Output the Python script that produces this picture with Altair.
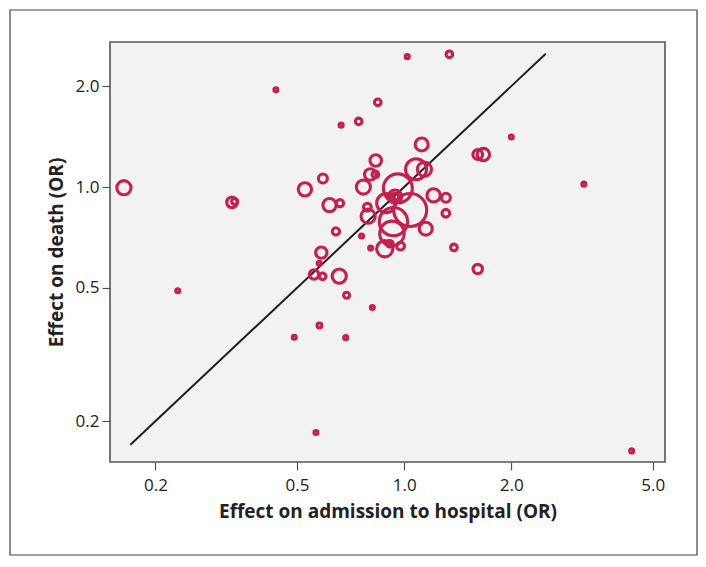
import altair as alt
import pandas as pd

# Effect on admission to hospital (OR), effect on death (OR), study weight
admission = [0.163, 0.328, 0.334, 0.436, 0.231, 1.02, 1.34, 0.843, 0.665, 0.745,
             2.0, 3.2, 4.36, 0.565, 0.491, 0.685, 0.578, 0.814, 0.689, 1.61,
             1.38, 0.657, 0.558, 0.590, 0.585, 0.577, 0.643, 0.759, 0.805, 0.882,
             0.911, 0.977, 1.15, 1.31, 1.31, 1.21, 1.12, 1.08, 1.14, 1.61,
             1.67, 0.832, 0.803, 0.830, 0.768, 0.591, 0.526, 0.617, 0.660, 0.788,
             0.792, 0.89, 0.960, 1.04, 0.933, 0.924, 0.943, 0.943]
death = [0.995, 0.90, 0.905, 1.95, 0.490, 2.45, 2.49, 1.79, 1.53, 1.57,
         1.41, 1.02, 0.163, 0.185, 0.356, 0.355, 0.386, 0.437, 0.475, 0.569,
         0.66, 0.542, 0.548, 0.541, 0.637, 0.592, 0.737, 0.714, 0.657, 0.654,
         0.677, 0.666, 0.751, 0.835, 0.929, 0.944, 1.34, 1.13, 1.13, 1.25,
         1.25, 1.20, 1.09, 1.09, 1.0, 1.06, 0.984, 0.883, 0.895, 0.871,
         0.818, 0.895, 0.991, 0.854, 0.788, 0.727, 0.936, 0.936]
weight = [50, 28, 9, 4, 4, 4, 11, 11, 4, 11,
          4, 4, 4, 4, 4, 4, 6, 4, 9, 22,
          11, 50, 22, 11, 32, 4, 13, 4, 4, 66,
          11, 15, 42, 15, 20, 44, 42, 110, 50, 24,
          38, 33, 33, 11, 50, 20, 44, 44, 13, 15,
          50, 90, 210, 272, 200, 150, 13, 44]

line_x = [0.17, 2.5]
line_y = [0.17, 2.5]

x_ticks = [0.2, 0.5, 1.0, 2.0, 5.0]
y_ticks = [0.2, 0.5, 1.0, 2.0]

df = pd.DataFrame({"admission": admission, "death": death, "weight": weight})
line_df = pd.DataFrame({"admission": line_x, "death": line_y})

FONT = "Open Sans"
xscale = alt.Scale(type="log", domain=[0.149, 5.41], nice=False)
yscale = alt.Scale(type="log", domain=[0.151, 2.71], nice=False)

x_enc = alt.X("admission:Q", scale=xscale,
              axis=alt.Axis(values=x_ticks, format=".1f",
                            title="Effect on admission to hospital (OR)",
                            titlePadding=9))
y_enc = alt.Y("death:Q", scale=yscale,
              axis=alt.Axis(values=y_ticks, format=".1f",
                            title="Effect on death (OR)",
                            titlePadding=9))

line = alt.Chart(line_df).mark_line(color="#1e1e1e", strokeWidth=2).encode(
    x=x_enc, y=y_enc)

points = alt.Chart(df).mark_point(
    filled=False, strokeWidth=3.1, color="#c61f4e", opacity=1
).encode(
    x=x_enc, y=y_enc,
    size=alt.Size("weight:Q", scale=alt.Scale(domain=[0, 400], range=[0, 1600]),
                  legend=None),
)

frame = alt.Chart(pd.DataFrame({"k": [0]})).mark_rect(
    fillOpacity=0, stroke="#444444", strokeWidth=1.2
).encode(
    x=alt.value(-100), x2=alt.value(587), y=alt.value(-32), y2=alt.value(513)
)

chart = alt.layer(line, points, frame).properties(
    width=555, height=420,
    autosize=alt.AutoSizeParams(type="none"),
    padding={"left": 102, "top": 34, "right": 33, "bottom": 97},
).configure_view(
    fill="#f2f2f2", stroke="#555555", strokeWidth=1.6
).configure_axis(
    domain=False, grid=False, tickColor="#555555", tickSize=8, tickWidth=1.2,
    labelFont=FONT, labelFontSize=17, labelColor="#222222", labelPadding=3,
    titleFont=FONT, titleFontSize=19, titleFontWeight="bold", titleColor="#222222",
).configure_axisX(labelPadding=7)

chart.save("out.html", embed_options={"renderer": "svg", "actions": False})
